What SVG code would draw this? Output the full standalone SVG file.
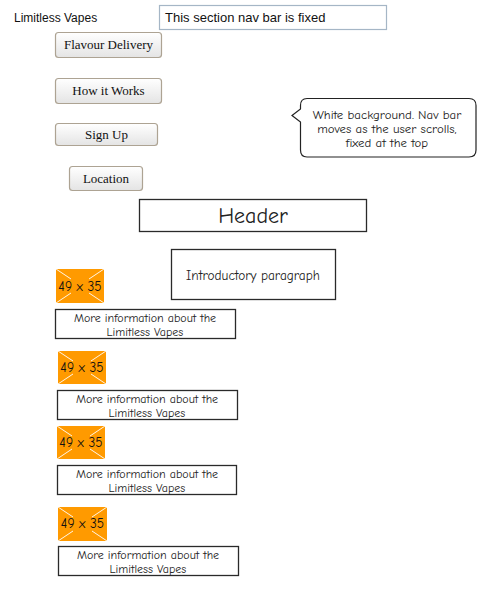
<svg xmlns="http://www.w3.org/2000/svg" width="500" height="600" viewBox="0 0 500 600">
<defs>
<linearGradient id="btn" x1="0" y1="0" x2="0" y2="1">
<stop offset="0" stop-color="#ffffff"/>
<stop offset="1" stop-color="#e4e4e4"/>
</linearGradient>
<style>
.sans{font-family:"Liberation Sans","Noto Sans",sans-serif;fill:#111}
.btn rect{fill:url(#btn);stroke:#ada393;stroke-width:1.2}
.btn text{font-family:"Liberation Serif","DejaVu Serif",serif;font-size:13px;fill:#111;text-anchor:middle}
.box{fill:#fff;stroke:#2a2a2a;stroke-width:1.3}
.comic{font-family:"Comic Sans MS","Comic Neue","Noto Sans",sans-serif;fill:#222;text-anchor:middle}
.img rect{fill:#ff9a00}
.img line{stroke:#fff;stroke-width:0.9}
.img text{font-family:"Comic Sans MS","Comic Neue","Noto Sans",sans-serif;font-size:13.5px;fill:#111;text-anchor:middle}
</style>
</defs>
<rect width="500" height="600" fill="#fff"/>

<g id="title"><text class="sans" x="14" y="22" font-size="12">Limitless Vapes</text></g>
<g id="navfield">
<rect x="159.5" y="5.5" width="227" height="24" fill="#fff" stroke="#a5b6c6" stroke-width="1.2"/>
<text class="sans" x="165" y="22" font-size="13">This section nav bar is fixed</text>
</g>

<g id="btn-flavour" class="btn"><rect x="55.5" y="32.5" width="106" height="25" rx="3"/><text x="108.5" y="49">Flavour Delivery</text></g>
<g id="btn-how" class="btn"><rect x="55.5" y="78.5" width="106" height="25" rx="3"/><text x="108.5" y="95">How it Works</text></g>
<g id="btn-signup" class="btn"><rect x="55.5" y="123.5" width="102" height="22" rx="3"/><text x="106.5" y="139">Sign Up</text></g>
<g id="btn-location" class="btn"><rect x="69.5" y="166.5" width="73" height="24" rx="3"/><text x="106" y="183">Location</text></g>

<g id="callout">
<path d="M307,98.5 H469 Q476,98.5 476,105.5 V150 Q476,157 469,157 H307 Q300.5,157 300.5,150 V122 L292,115.5 L300.5,109 V105.5 Q300.5,98.5 307,98.5 Z" fill="#fff" stroke="#222" stroke-width="1.2"/>
<text class="comic" font-size="12.8"><tspan x="387" y="119">White background. Nav bar</tspan><tspan x="387" y="133">moves as the user scrolls,</tspan><tspan x="387" y="147">fixed at the top</tspan></text>
</g>

<g id="header"><rect class="box" x="139.5" y="199.5" width="227" height="32"/><text class="comic" x="253" y="223" font-size="22">Header</text></g>
<g id="intro"><rect class="box" x="171.5" y="249.5" width="164" height="50"/><text class="comic" x="253" y="280" font-size="13.3">Introductory paragraph</text></g>

<g id="img1" class="img"><rect x="56" y="269" width="48" height="34"/>
<line x1="56" y1="269" x2="71" y2="279"/><line x1="104" y1="269" x2="89" y2="279"/><line x1="56" y1="303" x2="71" y2="293"/><line x1="104" y1="303" x2="89" y2="293"/>
<text x="80" y="291">49 x 35</text></g>
<g id="info1"><rect class="box" x="55.5" y="309.5" width="180" height="29"/><text class="comic" font-size="12"><tspan x="145" y="322">More information about the</tspan><tspan x="145" y="336">Limitless Vapes</tspan></text></g>

<g id="img2" class="img"><rect x="58" y="351" width="48" height="33"/>
<line x1="58" y1="351" x2="73" y2="361"/><line x1="106" y1="351" x2="91" y2="361"/><line x1="58" y1="384" x2="73" y2="374"/><line x1="106" y1="384" x2="91" y2="374"/>
<text x="82" y="372">49 x 35</text></g>
<g id="info2"><rect class="box" x="57.5" y="390.5" width="180" height="29"/><text class="comic" font-size="12"><tspan x="147" y="403">More information about the</tspan><tspan x="147" y="417">Limitless Vapes</tspan></text></g>

<g id="img3" class="img"><rect x="57" y="426" width="48" height="33"/>
<line x1="57" y1="426" x2="72" y2="436"/><line x1="105" y1="426" x2="90" y2="436"/><line x1="57" y1="459" x2="72" y2="449"/><line x1="105" y1="459" x2="90" y2="449"/>
<text x="81" y="447">49 x 35</text></g>
<g id="info3"><rect class="box" x="57.5" y="465.5" width="179" height="29"/><text class="comic" font-size="12"><tspan x="147" y="478">More information about the</tspan><tspan x="147" y="492">Limitless Vapes</tspan></text></g>

<g id="img4" class="img"><rect x="58" y="507" width="49" height="34"/>
<line x1="58" y1="507" x2="73" y2="517"/><line x1="107" y1="507" x2="92" y2="517"/><line x1="58" y1="541" x2="73" y2="531"/><line x1="107" y1="541" x2="92" y2="531"/>
<text x="82.5" y="528">49 x 35</text></g>
<g id="info4"><rect class="box" x="58.5" y="546.5" width="180" height="29"/><text class="comic" font-size="12"><tspan x="148" y="559">More information about the</tspan><tspan x="148" y="573">Limitless Vapes</tspan></text></g>

<g id="connectors"></g>
</svg>
